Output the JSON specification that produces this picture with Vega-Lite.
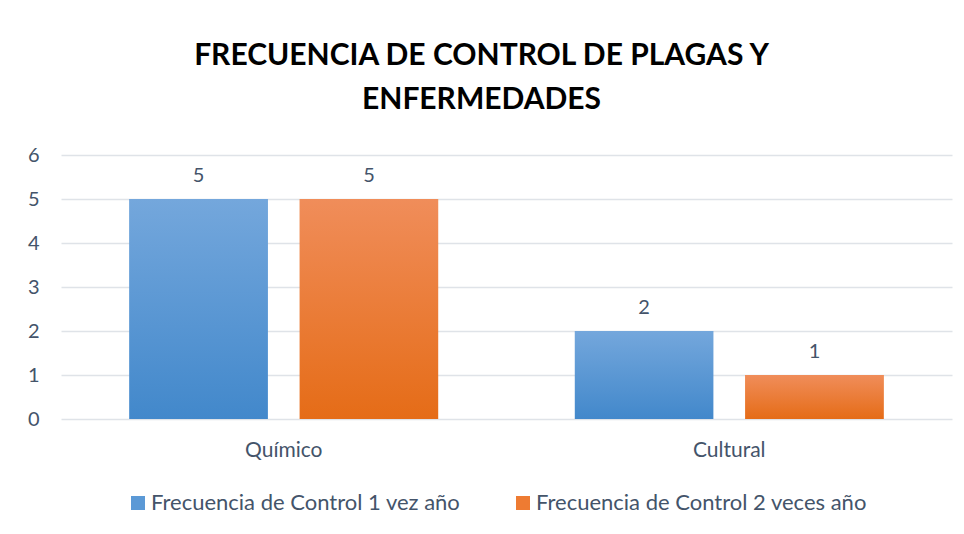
{
  "$schema": "https://vega.github.io/schema/vega-lite/v6.json",
  "width": 891,
  "height": 264,
  "autosize": "none",
  "padding": {"left": 61, "top": 155, "right": 12, "bottom": 115},
  "background": "white",
  "config": {
    "view": {"stroke": null},
    "font": "Lato"
  },
  "title": {
    "text": ["FRECUENCIA DE CONTROL DE PLAGAS Y", "ENFERMEDADES"],
    "font": "Lato",
    "fontSize": 30,
    "fontWeight": "bold",
    "color": "#000000",
    "lineHeight": 44,
    "anchor": "middle",
    "dx": -25,
    "offset": 30
  },
  "data": {
    "values": [
      {"categoria": "Químico", "serie": "Frecuencia de Control 1 vez año", "valor": 5},
      {"categoria": "Químico", "serie": "Frecuencia de Control 2 veces año", "valor": 5},
      {"categoria": "Cultural", "serie": "Frecuencia de Control 1 vez año", "valor": 2},
      {"categoria": "Cultural", "serie": "Frecuencia de Control 2 veces año", "valor": 1}
    ]
  },
  "encoding": {
    "x": {
      "field": "categoria",
      "type": "nominal",
      "sort": ["Químico", "Cultural"],
      "scale": {"paddingInner": 0.307, "paddingOuter": 0.1535},
      "axis": {
        "title": null,
        "labelAngle": 0,
        "labelFontSize": 21,
        "labelColor": "#44546A",
        "labelPadding": 20,
        "ticks": false,
        "domain": false
      }
    },
    "xOffset": {
      "field": "serie",
      "type": "nominal",
      "scale": {"paddingInner": 0.188, "paddingOuter": 0}
    },
    "y": {
      "field": "valor",
      "type": "quantitative",
      "scale": {"domain": [0, 6]},
      "axis": {
        "title": null,
        "values": [0, 1, 2, 3, 4, 5, 6],
        "labelFontSize": 20,
        "labelColor": "#44546A",
        "labelPadding": 22,
        "ticks": false,
        "domain": false,
        "gridColor": "#DFE3E8",
        "gridWidth": 1.5
      }
    }
  },
  "layer": [
    {
      "mark": {"type": "bar"},
      "encoding": {
        "color": {
          "field": "serie",
          "type": "nominal",
          "scale": {
            "domain": ["Frecuencia de Control 1 vez año", "Frecuencia de Control 2 veces año"],
            "range": ["#5B99D6", "#EE7B32"]
          },
          "legend": {
            "title": null,
            "orient": "none",
            "direction": "horizontal",
            "legendX": 66,
            "legendY": 337,
            "symbolType": "square",
            "symbolSize": 196,
            "symbolStrokeWidth": 0,
            "symbolOpacity": 1,
            "labelFontSize": 22,
            "labelLimit": 600,
            "labelColor": "#44546A",
            "labelOffset": 2,
            "columnPadding": 51
          }
        }
      }
    },
    {
      "mark": {"type": "bar"},
      "encoding": {
        "fill": {
          "condition": {
            "test": "datum.serie === 'Frecuencia de Control 1 vez año'",
            "value": {"gradient": "linear", "x1": 0, "y1": 0, "x2": 0, "y2": 1, "stops": [{"offset": 0, "color": "#74A7DC"}, {"offset": 1, "color": "#4288CB"}]}
          },
          "value": {"gradient": "linear", "x1": 0, "y1": 0, "x2": 0, "y2": 1, "stops": [{"offset": 0, "color": "#F08D5A"}, {"offset": 1, "color": "#E56C17"}]}
        }
      }
    },
    {
      "mark": {"type": "text", "baseline": "bottom", "dy": -13, "fontSize": 20, "color": "#44546A"},
      "encoding": {
        "text": {"field": "valor", "type": "quantitative"}
      }
    }
  ]
}
